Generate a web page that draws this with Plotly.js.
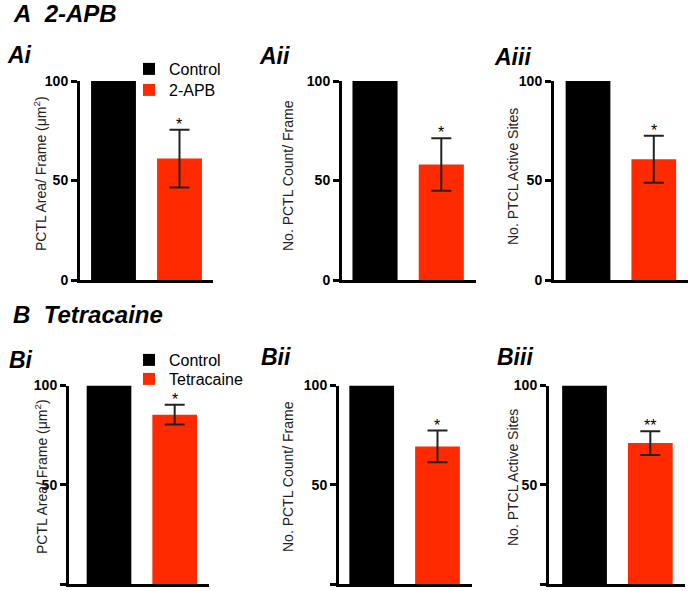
<!DOCTYPE html>
<html>
<head>
<meta charset="utf-8">
<script src="https://cdn.plot.ly/plotly-3.0.1.min.js"></script>
<style>html,body{margin:0;padding:0;background:#fff;}#chart{width:692px;height:591px;}</style>
</head>
<body>
<div id="chart"></div>
<script>
// ---- data ----
const panelLabels = ['Ai', 'Aii', 'Aiii', 'Bi', 'Bii', 'Biii'];
const controlName = 'Control';
const drugNames = ['2-APB', '2-APB', '2-APB', 'Tetracaine', 'Tetracaine', 'Tetracaine'];
const controlMeans = [100, 100, 100, 100, 100, 100];
const drugMeans = [61, 58, 60.7, 85.3, 69.3, 71];
const drugSEM = [14.5, 13.2, 11.8, 5, 8, 6];
const sigLabels = ['*', '*', '*', '*', '*', '**'];
const yTitles = [
  'PCTL Area/ Frame (\u03bcm<sup>2</sup>)',
  'No. PCTL Count/ Frame',
  'No. PTCL Active Sites',
  'PCTL Area/ Frame (\u03bcm<sup>2</sup>)',
  'No. PCTL Count/ Frame',
  'No. PTCL Active Sites'
];
const yTickVals = [0, 50, 100];
const yTickText = ['0', '50', '100'];
const sectionTitles = ['A\u00a0\u00a02-APB', 'B\u00a0\u00a0Tetracaine'];

// ---- layout geometry (pixels) ----
const W = 692, H = 591;
const geo = [
  {ax0: 80,  ax1: 213,   range: [-0.508, 1.508], top: 81,    bot: 280, tx: 40,  ty: 174, lx: 5,   ly: 55},
  {ax0: 342, ax1: 475.7, range: [-0.498, 1.519], top: 81,    bot: 280, tx: 288, ty: 176, lx: 257, ly: 56},
  {ax0: 554, ax1: 688,   range: [-0.517, 1.520], top: 81,    bot: 280, tx: 513, ty: 177, lx: 492, ly: 57},
  {ax0: 69,  ax1: 209.3, range: [-0.609, 1.527], top: 385.5, bot: 584, tx: 41,  ty: 477, lx: 7,   ly: 360},
  {ax0: 339, ax1: 471.7, range: [-0.497, 1.520], top: 385.5, bot: 584, tx: 288, ty: 477, lx: 259, ly: 357},
  {ax0: 549, ax1: 685,   range: [-0.540, 1.527], top: 385.5, bot: 584, tx: 513, ty: 478, lx: 495, ly: 357}
];
const fx = p => p / W;
const fy = p => 1 - p / H;

const RED = '#ff2a00';
const FONT = 'Liberation Sans, Arial, Helvetica, sans-serif';

function legendBox(xpx, toppx) {
  return {
    x: fx(xpx), y: fy(toppx), xanchor: 'left', yanchor: 'top',
    font: {family: FONT, size: 16, color: '#000'},
    bgcolor: 'rgba(0,0,0,0)', borderwidth: 0, itemwidth: 30
  };
}

const traces = [];
const layout = {
  width: W, height: H,
  margin: {l: 0, r: 0, t: 0, b: 0},
  paper_bgcolor: '#ffffff', plot_bgcolor: '#ffffff',
  barmode: 'overlay',
  font: {family: FONT, color: '#000'},
  annotations: [],
  legend: legendBox(129, 52),
  legend2: legendBox(129, 73),
  legend3: legendBox(129, 343),
  legend4: legendBox(129, 362)
};

panelLabels.forEach((lab, i) => {
  const n = i + 1;
  const xa = 'x' + (n === 1 ? '' : n);
  const ya = 'y' + (n === 1 ? '' : n);
  const g = geo[i];
  const showLeg = i === 0 || i === 3;
  const legC = i === 3 ? 'legend3' : 'legend';
  const legD = i === 3 ? 'legend4' : 'legend2';

  traces.push({
    type: 'bar', x: [controlName], y: [controlMeans[i]], name: controlName,
    xaxis: xa, yaxis: ya, width: 0.68,
    marker: {color: '#000000', line: {width: 0}},
    showlegend: showLeg, legend: legC, hoverinfo: 'y'
  });
  traces.push({
    type: 'bar', x: [drugNames[i]], y: [drugMeans[i]], name: drugNames[i],
    xaxis: xa, yaxis: ya, width: 0.68,
    marker: {color: RED, line: {width: 0}},
    error_y: {type: 'data', array: [drugSEM[i]], visible: true, color: '#222', thickness: 2, width: 10},
    showlegend: showLeg, legend: legD, hoverinfo: 'y'
  });

  const xKey = 'xaxis' + (n === 1 ? '' : n);
  const yKey = 'yaxis' + (n === 1 ? '' : n);
  layout[xKey] = {
    domain: [fx(g.ax0), fx(g.ax1)], anchor: ya,
    type: 'category', categoryorder: 'array', categoryarray: [controlName, drugNames[i]],
    range: g.range, showticklabels: false, ticks: '',
    showline: true, linecolor: '#000', linewidth: 3, showgrid: false, zeroline: false, fixedrange: true
  };
  layout[yKey] = {
    domain: [fy(g.bot), fy(g.top)], anchor: xa,
    range: [0, 100], tickvals: yTickVals, ticktext: yTickText,
    ticks: 'outside', ticklen: 6, tickwidth: 3, tickcolor: '#000',
    tickfont: {family: FONT, size: 14, color: '#000', weight: 'bold'},
    showline: true, linecolor: '#000', linewidth: 3, showgrid: false, zeroline: false, fixedrange: true
  };

  // y-axis title
  layout.annotations.push({
    xref: 'paper', yref: 'paper', x: fx(g.tx), y: fy(g.ty), xanchor: 'center', yanchor: 'middle',
    text: yTitles[i], textangle: -90, showarrow: false,
    font: {family: FONT, size: 14, color: '#222'}
  });
  // panel label
  layout.annotations.push({
    xref: 'paper', yref: 'paper', x: fx(g.lx), y: fy(g.ly), xanchor: 'left', yanchor: 'middle',
    text: '<b><i>' + lab + '</i></b>', showarrow: false,
    font: {family: FONT, size: 23, color: '#000'}
  });
  // significance marker above error bar
  layout.annotations.push({
    xref: xa, yref: ya, x: drugNames[i], y: drugMeans[i] + drugSEM[i], xanchor: 'center', yanchor: 'bottom',
    text: sigLabels[i], showarrow: false, yshift: -5,
    font: {family: FONT, size: 16, color: '#000'}
  });
});

// section titles
const sectionY = [13.5, 314];
sectionTitles.forEach((t, k) => {
  layout.annotations.push({
    xref: 'paper', yref: 'paper', x: fx(11), y: fy(sectionY[k]), xanchor: 'left', yanchor: 'middle',
    text: '<b><i>' + t + '</i></b>', showarrow: false,
    font: {family: FONT, size: 24, color: '#000'}
  });
});

Plotly.newPlot('chart', traces, layout, {staticPlot: true, displayModeBar: false});
</script>
</body>
</html>
